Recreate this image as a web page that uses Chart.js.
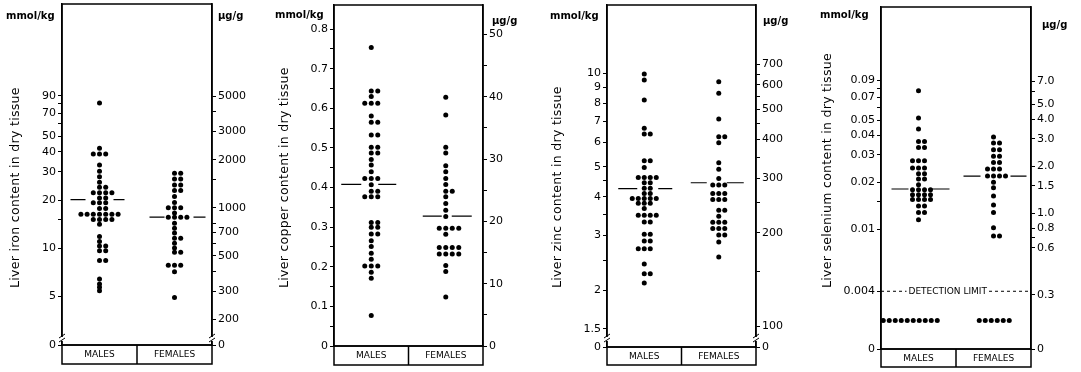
<!DOCTYPE html>
<html>
<head>
<meta charset="utf-8">
<script src="https://cdn.jsdelivr.net/npm/chart.js@4.4.0/dist/chart.umd.min.js"></script>
<style>
  body { margin: 0; background: #fff; width: 1081px; height: 372px; overflow: hidden; position: relative; }
  canvas { position: absolute; top: 0; }
</style>
</head>
<body>
<canvas id="iron" width="270" height="372" style="left:0px"></canvas>
<canvas id="copper" width="270" height="372" style="left:270px"></canvas>
<canvas id="zinc" width="270" height="372" style="left:540px"></canvas>
<canvas id="selenium" width="271" height="372" style="left:810px"></canvas>
<script>
var categories = ["MALES", "FEMALES"];

// liver content, mmol/kg dry tissue (one entry per subject)
var ironMales = [81, 42.2, 38.8, 38.8, 38.8, 33.2, 30.3, 28.0, 25.8, 24.0, 24.0,
  22.2, 22.2, 22.2, 22.2, 20.6, 20.6, 19.2, 19.2, 19.2, 17.7, 17.7,
  16.3, 16.3, 16.3, 16.3, 16.3, 16.3, 16.3, 15.1, 15.1, 15.1, 15.1, 14.1,
  11.8, 11.0, 10.3, 10.3, 9.6, 9.6, 8.35, 8.35, 6.4, 5.95, 5.67, 5.4];
var ironFemales = [29.4, 29.4, 27.1, 27.1, 24.8, 24.8, 22.9, 22.9, 21.0, 19.3,
  17.9, 17.9, 17.9, 16.6, 15.6, 15.6, 15.6, 15.6, 14.3, 13.3, 12.4, 11.5, 11.5,
  10.7, 10.0, 9.4, 9.4, 7.8, 7.8, 7.8, 7.1, 4.9];
var ironMean = [20.1, 15.6];

var copperMales = [0.754, 0.644, 0.644, 0.630, 0.613, 0.613, 0.613, 0.581, 0.565, 0.565,
  0.533, 0.533, 0.502, 0.502, 0.487, 0.487, 0.471, 0.457, 0.440, 0.423, 0.423, 0.423,
  0.407, 0.391, 0.391, 0.377, 0.377, 0.377, 0.312, 0.312, 0.300, 0.300, 0.283, 0.283,
  0.266, 0.251, 0.234, 0.219, 0.202, 0.202, 0.202, 0.186, 0.171, 0.077];
var copperFemales = [0.628, 0.583, 0.502, 0.487, 0.455, 0.440, 0.423, 0.408, 0.391, 0.391,
  0.377, 0.360, 0.343, 0.327, 0.297, 0.297, 0.297, 0.297, 0.282, 0.249, 0.249, 0.249, 0.249,
  0.232, 0.232, 0.232, 0.232, 0.203, 0.188, 0.124];
var copperMean = [0.408, 0.328];

var zincMales = [9.95, 9.52, 8.20, 6.65, 6.37, 6.37, 5.23, 5.23, 4.97, 4.62, 4.62, 4.62, 4.62,
  4.44, 4.44, 4.26, 4.26, 4.10, 4.10, 3.95, 3.95, 3.95, 3.95, 3.95, 3.81, 3.81, 3.81, 3.67,
  3.49, 3.49, 3.49, 3.49, 3.32, 3.32, 3.03, 3.03, 2.88, 2.88, 2.72, 2.72, 2.72, 2.43, 2.26, 2.26, 2.11];
var zincFemales = [9.39, 8.62, 7.13, 6.25, 6.25, 5.97, 5.15, 4.91, 4.58, 4.37, 4.37, 4.37,
  4.10, 4.10, 4.10, 3.92, 3.92, 3.92, 3.62, 3.62, 3.46, 3.31, 3.31, 3.31, 3.16, 3.16, 3.16,
  3.01, 3.01, 2.86, 2.56];
var zincMean = [4.25, 4.44];

var seleniumMales = [0.0773, 0.0516, 0.0439, 0.0365, 0.0365, 0.0334, 0.0334, 0.0275, 0.0275, 0.0275,
  0.0247, 0.0247, 0.0247, 0.0227, 0.0227, 0.0210, 0.0210, 0.0193, 0.0179, 0.0179, 0.0179, 0.0179,
  0.0166, 0.0166, 0.0166, 0.0166, 0.0155, 0.0155, 0.0155, 0.0155, 0.0141, 0.0141, 0.0128, 0.0128, 0.0115];
var seleniumFemales = [0.0390, 0.0357, 0.0357, 0.0323, 0.0323, 0.0293, 0.0293, 0.0268, 0.0268,
  0.0243, 0.0243, 0.0243, 0.0219, 0.0219, 0.0219, 0.0219, 0.0200, 0.0184, 0.0163, 0.0143,
  0.0128, 0.0102, 0.00905, 0.00905];
var seleniumMean = [0.0181, 0.0219];
var seleniumBelowLimit = [10, 6];     // number of samples under the detection limit
var seleniumBelowLimitPlot = 0.0026;  // where those are plotted
var seleniumLimit = 0.004;

// tick labels (mmol/kg left, ug/g right)
var ironTicksLeft = ["90", "70", "50", "40", "30", "20", "10", "5"];
var ironMinorLeft = [80, 60, 15];
var ironTicksRight = ["5000", "3000", "2000", "1000", "700", "500", "300", "200"];
var ironMinorRight = [4000, 1500, 800, 600, 400];
var copperTicksLeft = ["0.8", "0.7", "0.6", "0.5", "0.4", "0.3", "0.2", "0.1", "0"];
var copperMinorLeft = [0.75, 0.65, 0.55, 0.45, 0.35, 0.25, 0.15, 0.05];
var copperTicksRight = ["50", "40", "30", "20", "10", "0"];
var copperMinorRight = [45, 35, 25, 15, 5];
var zincTicksLeft = ["10", "9", "8", "7", "6", "5", "4", "3", "2", "1.5"];
var zincMinorLeft = [4.5, 3.5, 2.5];
var zincTicksRight = ["700", "600", "500", "400", "300", "200", "100"];
var zincMinorRight = [650, 550, 450, 350, 250, 150];
var seleniumTicksLeft = ["0.09", "0.07", "0.05", "0.04", "0.03", "0.02", "0.01", "0.004"];
var seleniumMinorLeft = [0.08, 0.06, 0.015];
var seleniumTicksRight = ["7.0", "5.0", "4.0", "3.0", "2.0", "1.5", "1.0", "0.8", "0.6", "0.3"];
var seleniumMinorRight = [6.0, 0.7];

var INK = '#000';
var FONT = '"DejaVu Sans", sans-serif';
Chart.defaults.font.family = FONT;

// dot plot: equal values go side by side, centre first then right, left, ...
function dotColumn(values, center, step) {
  var seen = {};
  var order = [0, 1, -1, 2, -2, 3, -3, 4, -4, 5];
  return values.map(function (v) {
    var k = seen[v] || 0;
    seen[v] = k + 1;
    return { x: center + order[k] * step, y: v };
  });
}

function axis(pos, type, min, max, labels, minor, zeroAtMin, width) {
  var labelVals = labels.map(parseFloat);
  var vals = labelVals.concat(minor);
  if (zeroAtMin) vals.push(min);
  return {
    type: type, position: pos, min: min, max: max, bounds: 'data', display: true,
    afterBuildTicks: function (s) { s.ticks = vals.map(function (v) { return { value: v }; }); },
    afterFit: function (s) { s.width = width; s.paddingTop = 0; s.paddingBottom = 0; },
    ticks: {
      autoSkip: false, padding: 2, color: INK, font: { size: 11 },
      callback: function (v) {
        if (zeroAtMin && v === min) return '0';
        var i = labelVals.indexOf(v);
        return i >= 0 ? labels[i] : '';
      }
    },
    grid: { drawOnChartArea: false, tickLength: 4, color: INK, lineWidth: 1 },
    border: { color: INK, width: 1.5 }
  };
}

function brk(ctx, x, y) {
  ctx.save();
  ctx.fillStyle = '#fff';
  ctx.fillRect(x - 2, y - 2, 4, 4);
  ctx.strokeStyle = INK;
  ctx.lineWidth = 1;
  ctx.beginPath();
  ctx.moveTo(x - 3, y - 1); ctx.lineTo(x + 3, y - 5);
  ctx.moveTo(x - 3, y + 3); ctx.lineTo(x + 3, y - 1);
  ctx.stroke();
  ctx.restore();
}

function framePlugin(cfg) {
  return {
    id: 'frame',
    afterDatasetsDraw: function (chart) {
      if (!cfg.limit) return;
      var ctx = chart.ctx;
      var y = chart.scales.y.getPixelForValue(cfg.limit);
      var x = chart.scales.x.getPixelForValue(0.89);
      ctx.save();
      ctx.font = '9px ' + FONT;
      var w = ctx.measureText('DETECTION LIMIT').width;
      ctx.fillStyle = '#fff';
      ctx.fillRect(x - w / 2 - 2, y - 5, w + 4, 10);
      ctx.fillStyle = INK;
      ctx.textAlign = 'center';
      ctx.textBaseline = 'middle';
      ctx.fillText('DETECTION LIMIT', x, y);
      ctx.restore();
    },
    afterDraw: function (chart) {
      var ctx = chart.ctx, a = chart.chartArea;
      ctx.save();
      ctx.strokeStyle = INK;
      ctx.lineWidth = 1.5;
      ctx.strokeRect(a.left, a.top, a.right - a.left, a.bottom - a.top);
      ctx.strokeRect(a.left, a.bottom, a.right - a.left, cfg.boxHeight);
      var mid = chart.scales.x.getPixelForValue(1);
      ctx.beginPath();
      ctx.moveTo(mid, a.bottom);
      ctx.lineTo(mid, a.bottom + cfg.boxHeight);
      ctx.stroke();
      if (cfg.breakY) { brk(ctx, a.left, cfg.breakY); brk(ctx, a.right, cfg.breakY); }
      ctx.fillStyle = INK;
      ctx.font = 'bold 10px ' + FONT;
      ctx.textBaseline = 'middle';
      ctx.textAlign = 'left';
      ctx.fillText('mmol/kg', cfg.unitL[0], cfg.unitL[1]);
      ctx.fillText('\u00b5g/g', cfg.unitR[0], cfg.unitR[1]);
      ctx.translate(cfg.titleX, 288);
      ctx.rotate(-Math.PI / 2);
      ctx.font = '12.5px ' + FONT;
      ctx.letterSpacing = '0.3px';
      ctx.fillText(cfg.title, 0, 0);
      ctx.restore();
    }
  };
}

function drawPanel(id, cfg) {
  var el = document.getElementById(id);
  var a = cfg.area;
  var perPx = 2 / (a.right - a.left);
  var datasets = [];
  [0, 1].forEach(function (g) {
    var c = g + 0.5, s = cfg.meanSegs[g], m = cfg.means[g];
    datasets.push({
      data: [{ x: c + s[0] * perPx, y: m }, { x: c + s[1] * perPx, y: m }, { x: c, y: null },
             { x: c + s[2] * perPx, y: m }, { x: c + s[3] * perPx, y: m }],
      showLine: true, spanGaps: false, pointRadius: 0, borderColor: INK, borderWidth: 1.2
    });
    datasets.push({
      data: dotColumn(cfg.groups[g], c, cfg.step * perPx),
      pointRadius: 2.5, backgroundColor: INK, borderWidth: 0
    });
  });
  if (cfg.limit) {
    datasets.push({
      data: [{ x: 0, y: cfg.limit }, { x: 2, y: cfg.limit }],
      showLine: true, pointRadius: 0, borderColor: INK, borderWidth: 1, borderDash: [3, 3]
    });
    var row = [];
    cfg.below.forEach(function (n, g) {
      var c = cfg.belowCenters[g];
      for (var i = 0; i < n; i++) {
        row.push({ x: c + (i - (n - 1) / 2) * cfg.step * perPx, y: cfg.belowPlot });
      }
    });
    datasets.push({ data: row, pointRadius: 2.5, backgroundColor: INK, borderWidth: 0 });
  }
  var L = cfg.left, R = cfg.right;
  new Chart(el, {
    type: 'scatter',
    data: { datasets: datasets },
    options: {
      responsive: false,
      animation: false,
      events: [],
      layout: { padding: { top: a.top, left: 0, right: 0, bottom: 0 } },
      plugins: { legend: { display: false }, tooltip: { enabled: false } },
      scales: {
        x: {
          type: 'linear', min: 0, max: 2, bounds: 'data',
          afterBuildTicks: function (s) { s.ticks = [{ value: 0.5 }, { value: 1.5 }]; },
          afterFit: function (s) { s.height = el.height - a.bottom; s.paddingLeft = 0; s.paddingRight = 0; },
          ticks: {
            autoSkip: false, maxRotation: 0, padding: -4, color: INK, font: { size: 9 },
            callback: function (v) { return categories[Math.round(v - 0.5)]; }
          },
          grid: { display: false },
          border: { display: false }
        },
        y: axis('left', L.type, L.min, L.max, L.labels, L.minor, L.zero, a.left),
        y2: axis('right', R.type, R.min, R.max, R.labels, R.minor, R.zero, el.width - a.right)
      }
    },
    plugins: [framePlugin(cfg)]
  });
}

drawPanel('iron', {
  area: { left: 62, right: 212, top: 4, bottom: 345 }, boxHeight: 19, breakY: 339,
  title: 'Liver iron content in dry tissue', titleX: 16, unitL: [6, 16], unitR: [218, 16],
  groups: [ironMales, ironFemales], means: ironMean, step: 6.2,
  meanSegs: [[-29, -14, 14, 25], [-25, -10, 19, 31]],
  left: { type: 'logarithmic', min: 2.466, max: 338.7, labels: ironTicksLeft, minor: ironMinorLeft, zero: true },
  right: { type: 'logarithmic', min: 2.466 * 55.845, max: 338.7 * 55.845, labels: ironTicksRight, minor: ironMinorRight, zero: true }
});

drawPanel('copper', {
  area: { left: 64, right: 213, top: 5, bottom: 346 }, boxHeight: 19,
  title: 'Liver copper content in dry tissue', titleX: 15, unitL: [5, 15], unitR: [222, 21],
  groups: [copperMales, copperFemales], means: copperMean, step: 6.5,
  meanSegs: [[-30, -10, 7, 25], [-23, -4, 6, 26]],
  left: { type: 'linear', min: 0, max: 0.861, labels: copperTicksLeft, minor: copperMinorLeft, zero: false },
  right: { type: 'linear', min: 0, max: 0.861 * 63.546, labels: copperTicksRight, minor: copperMinorRight, zero: false }
});

drawPanel('zinc', {
  area: { left: 67, right: 216, top: 5, bottom: 347 }, boxHeight: 18, breakY: 339,
  title: 'Liver zinc content in dry tissue', titleX: 17.5, unitL: [10, 16], unitR: [223, 21],
  groups: [zincMales, zincFemales], means: zincMean, step: 6,
  meanSegs: [[-26, -7, 14, 28], [-28, -12, 8, 25]],
  left: { type: 'logarithmic', min: 1.312, max: 16.61, labels: zincTicksLeft, minor: zincMinorLeft, zero: true },
  right: { type: 'logarithmic', min: 1.312 * 65.38, max: 16.61 * 65.38, labels: zincTicksRight, minor: zincMinorRight, zero: true }
});

drawPanel('selenium', {
  area: { left: 71, right: 221, top: 7, bottom: 349 }, boxHeight: 18,
  title: 'Liver selenium content in dry tissue', titleX: 17.5, unitL: [10, 15], unitR: [232, 25],
  groups: [seleniumMales, seleniumFemales], means: seleniumMean, step: 6,
  meanSegs: [[-27, -10, 10, 31], [-30, -13, 17, 33]],
  limit: seleniumLimit, below: seleniumBelowLimit, belowPlot: seleniumBelowLimitPlot, belowCenters: [0.39, 1.51],
  left: { type: 'logarithmic', min: 0.001706, max: 0.2656, labels: seleniumTicksLeft, minor: seleniumMinorLeft, zero: true },
  right: { type: 'logarithmic', min: 0.001706 * 78.97, max: 0.2656 * 78.97, labels: seleniumTicksRight, minor: seleniumMinorRight, zero: true }
});
</script>
</body>
</html>
